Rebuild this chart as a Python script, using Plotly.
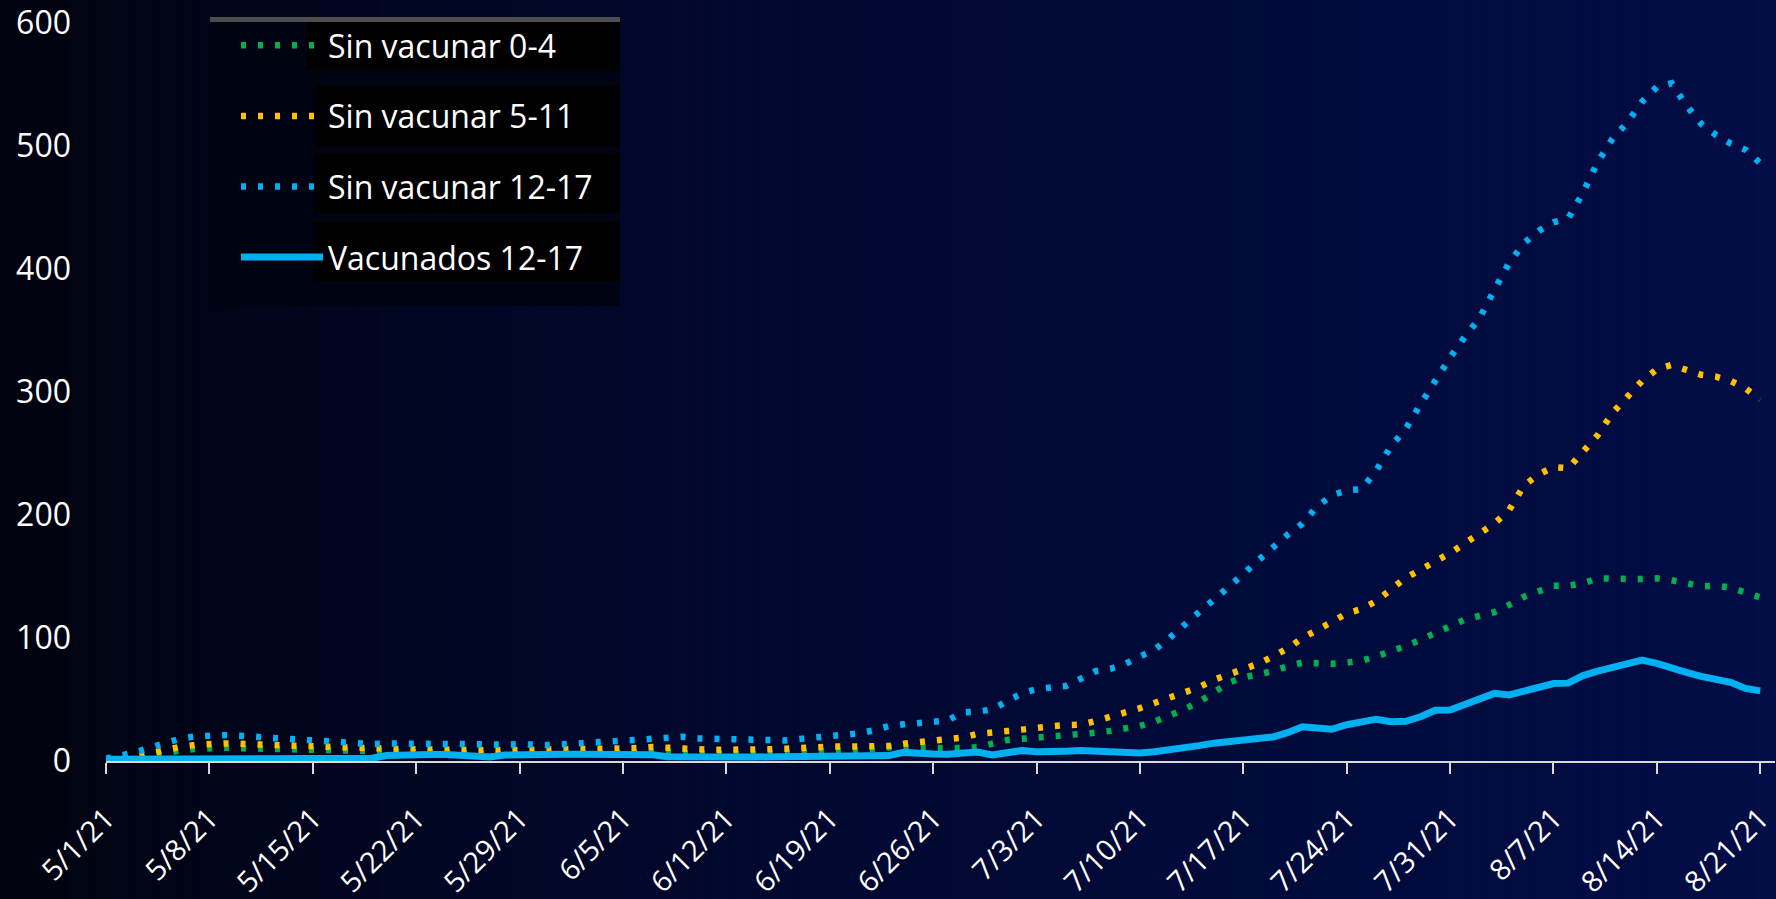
import plotly.graph_objects as go
import pandas as pd

# ---------------- data ----------------
start_date = "2021-05-01"
n_days = 113
dates = pd.date_range(start_date, periods=n_days, freq="D")

sin_vac_0_4 = [
    0.5, 1, 2, 4, 6.5, 8.5, 9.8, 10.5, 10.8, 10.5,
    10.2, 9.8, 9.3, 9, 8.6, 8.5, 8, 7.7, 7, 7,
    6.8, 6.4, 6, 6.2, 6.2, 5.8, 5.6, 5.6, 5.8, 5.5,
    5.2, 5.6, 5.8, 6, 6.5, 6.8, 7.2, 8, 7.8, 6.5,
    6, 5.5, 5.2, 5.3, 5.5, 5.8, 6.3, 7, 7.8, 8.2,
    8.6, 9.2, 10.2, 11, 10.8, 10.4, 10.3, 10.3, 10.5, 11.2,
    14, 17, 18, 19, 19, 20, 22, 23, 24.5, 26.5,
    28.5, 32, 36.5, 42, 48, 55, 63.5, 68, 70, 73,
    77, 80, 79.5, 79, 80, 81.5, 85, 89, 93.5, 98.5,
    104, 110, 115, 118, 121, 127, 133.5, 138, 142.5, 142.5,
    144.5, 148.5, 148.8, 148, 148, 148.5, 147, 144.5, 142, 142.5,
    141, 137, 133,
]

sin_vac_5_11 = [
    1, 2, 3, 6, 9, 11.5, 13, 14, 14.3, 14,
    13.5, 13, 12.5, 12.2, 11.7, 11.6, 11, 10.8, 10, 10,
    9.8, 9.4, 9, 9.2, 9.2, 8.8, 8.7, 8.7, 8.9, 8.6,
    8.4, 8.8, 9, 9.3, 9.8, 10, 10.5, 11.4, 11.2, 10,
    9.6, 9, 8.9, 9.1, 9.3, 9.6, 10, 10.8, 11.6, 11.7,
    11.7, 11.8, 11.9, 12.2, 14, 15, 16, 17.3, 19, 22,
    22.5, 24.3, 25.5, 27.5, 28.3, 29.2, 29.5, 32.5, 35.5, 39.5,
    43, 47, 51.5, 55.5, 60, 66, 70.5, 74.5, 79, 85,
    91.5, 100, 106, 113, 120, 123.5, 130, 140, 149, 155.5,
    162, 169, 177, 185, 193, 204, 224, 233, 239, 238,
    252, 265, 283, 297, 309, 318.5, 322, 318, 314, 312.5,
    309, 303, 294,
]

sin_vac_12_17 = [
    2, 4, 7, 11, 15, 18, 20, 21, 21, 20.5,
    19.8, 19, 17.5, 17, 16, 15.5, 15.2, 14, 13.8, 14.2,
    14.4, 14.5, 14.4, 13.8, 13.8, 13.5, 12.8, 13.3, 13.7, 12.8,
    13, 13.6, 14.6, 15.5, 16, 16.5, 17.2, 17.8, 19, 19.8,
    18.4, 18, 17.9, 17.9, 17.4, 16.6, 16.7, 18, 19, 19.8,
    21, 22.5, 25, 28.5, 29.8, 30.8, 31, 33, 39.5, 40,
    42, 49, 55, 58.5, 60, 61, 67, 73, 75, 79,
    85, 90.5, 100, 111, 121, 131, 141, 152, 163, 174,
    184, 193, 207, 216, 220, 221, 236, 256, 270, 290,
    310, 328, 345, 360, 383, 405, 421, 431, 438, 441,
    462, 487, 506, 519, 536, 548, 551, 533, 518, 509,
    502, 497, 486,
]

vacunados_12_17 = [
    1.5, 1.5, 1.6, 1.8, 2, 2, 2.1, 2.1, 2, 2,
    2, 2, 1.9, 1.9, 1.9, 2, 2, 2, 2.2, 4.5,
    5.2, 5.3, 5.3, 5.2, 5, 4.8, 3.3, 4.8, 5.2, 5.2,
    5.3, 5.4, 5.4, 5.4, 5.3, 5.3, 5.2, 5, 3.5, 3.2,
    3.2, 3.2, 3.3, 3.3, 3.3, 3.3, 3.4, 3.5, 4, 4.3,
    4.4, 4.4, 4.4, 4.4, 7, 6, 5.6, 5.5, 6, 7.3,
    5, 7, 8.5, 7.5, 7.3, 8, 8.5, 8, 7.2, 7,
    6.6, 7.5, 8.7, 10.5, 12.5, 14.5, 16, 17, 17.6, 19.5,
    23, 27.8, 26.8, 25.8, 29.5, 31.3, 34, 32, 32.3, 36,
    41.3, 41.5, 46.5, 51, 55, 53.7, 56.5, 60, 63, 63.3,
    69.5, 73, 76, 79, 82, 79.3, 76.3, 72, 68.8, 67,
    64, 59, 57,
]

series_names = ["Sin vacunar 0-4", "Sin vacunar 5-11", "Sin vacunar 12-17", "Vacunados 12-17"]
series_values = [sin_vac_0_4, sin_vac_5_11, sin_vac_12_17, vacunados_12_17]

tick_dates = pd.date_range(start_date, periods=17, freq="7D")
tick_labels = ["5/1/21", "5/8/21", "5/15/21", "5/22/21", "5/29/21", "6/5/21", "6/12/21",
               "6/19/21", "6/26/21", "7/3/21", "7/10/21", "7/17/21", "7/24/21", "7/31/21",
               "8/7/21", "8/14/21", "8/21/21"]
y_ticks = [0, 100, 200, 300, 400, 500, 600]

# ---------------- style ----------------
W, H = 1776, 899
ML, MR, MT, MB = 106, 1, 23, 138
PW, PH = W - ML - MR, H - MT - MB

colors = ["#00B050", "#FFC000", "#00B0F0", "#00B0F0"]
dashes = ["5px,12px", "5px,12px", "5px,12px", "solid"]
widths = [6.5, 6.5, 6.5, 7]
FONT = "Open Sans"


def px_x(x):
    return (x - ML) / PW


def px_y(y):
    return (H - MB - y) / PH


fig = go.Figure()
for name, vals, col, dsh, wd in zip(series_names, series_values, colors, dashes, widths):
    fig.add_trace(go.Scatter(
        x=dates, y=vals, mode="lines", name=name, legendgroup=name,
        line=dict(color=col, width=wd, dash=dsh),
        hoverinfo="skip",
    ))

shapes = []
# background gradient (left near-black to navy on the right)
stops = [(0.0, (1, 3, 14)), (0.25, (1, 6, 36)), (0.5, (1, 9, 50)), (0.75, (1, 11, 60)), (1.0, (3, 13, 70))]


def grad(t):
    for (t0, c0), (t1, c1) in zip(stops[:-1], stops[1:]):
        if t <= t1:
            f = (t - t0) / (t1 - t0)
            return tuple(round(a + (b - a) * f) for a, b in zip(c0, c1))
    return stops[-1][1]


N = 80
for i in range(N):
    x0 = W * i / N
    x1 = W * (i + 1) / N + 1
    c = grad((i + 0.5) / N)
    shapes.append(dict(type="rect", xref="paper", yref="paper",
                       x0=px_x(x0), x1=px_x(x1), y0=px_y(H), y1=px_y(0),
                       fillcolor="rgb(%d,%d,%d)" % c, line=dict(width=0), layer="below"))

# legend panel
shapes.append(dict(type="rect", xref="paper", yref="paper",
                   x0=px_x(210), x1=px_x(620), y0=px_y(306), y1=px_y(17),
                   fillcolor="#000312", line=dict(width=0), layer="above"))
shapes.append(dict(type="rect", xref="paper", yref="paper",
                   x0=px_x(210), x1=px_x(620), y0=px_y(22), y1=px_y(17),
                   fillcolor="#4d4d4d", line=dict(width=0), layer="above"))
for (bx0, by0, by1) in [(307, 22, 70), (314, 85, 147), (314, 153, 213), (314, 222, 281)]:
    shapes.append(dict(type="rect", xref="paper", yref="paper",
                       x0=px_x(bx0), x1=px_x(620), y0=px_y(by1), y1=px_y(by0),
                       fillcolor="#000000", line=dict(width=0), layer="above"))

fig.update_layout(
    width=W, height=H,
    margin=dict(l=ML, r=MR, t=MT, b=MB, pad=0, autoexpand=False),
    paper_bgcolor="#010a33",
    plot_bgcolor="rgba(0,0,0,0)",
    font=dict(family=FONT, color="white"),
    shapes=shapes,
    showlegend=True,
    legend=dict(
        x=px_x(236), xanchor="left", y=px_y(18), yanchor="top",
        bgcolor="rgba(0,0,0,0)", borderwidth=0,
        font=dict(family=FONT, size=32, color="white"),
        traceorder="grouped", tracegroupgap=26, itemwidth=82,
    ),
    xaxis=dict(
        range=[pd.Timestamp("2021-05-01"), pd.Timestamp("2021-08-22")],
        tickmode="array", tickvals=tick_dates, ticktext=tick_labels,
        tickangle=-45, tickfont=dict(family=FONT, size=29, color="white"),
        showgrid=False, zeroline=False, automargin=False,
        showline=True, linecolor="#d9d9d9", linewidth=2,
        ticks="outside", ticklen=11, tickwidth=2, tickcolor="#d9d9d9",
        ticklabelstandoff=16, ticklabeloverflow="allow",
    ),
    yaxis=dict(
        range=[0, 600], tickmode="array", tickvals=y_ticks,
        tickfont=dict(family=FONT, size=32, color="white"),
        showgrid=False, zeroline=False, showline=False, ticks="",
        ticklabelstandoff=34, automargin=False,
    ),
)

fig.write_html(
    "out.html",
    config={"displayModeBar": False},
    post_script="document.body.style.margin='0';document.body.style.overflow='hidden';",
)
